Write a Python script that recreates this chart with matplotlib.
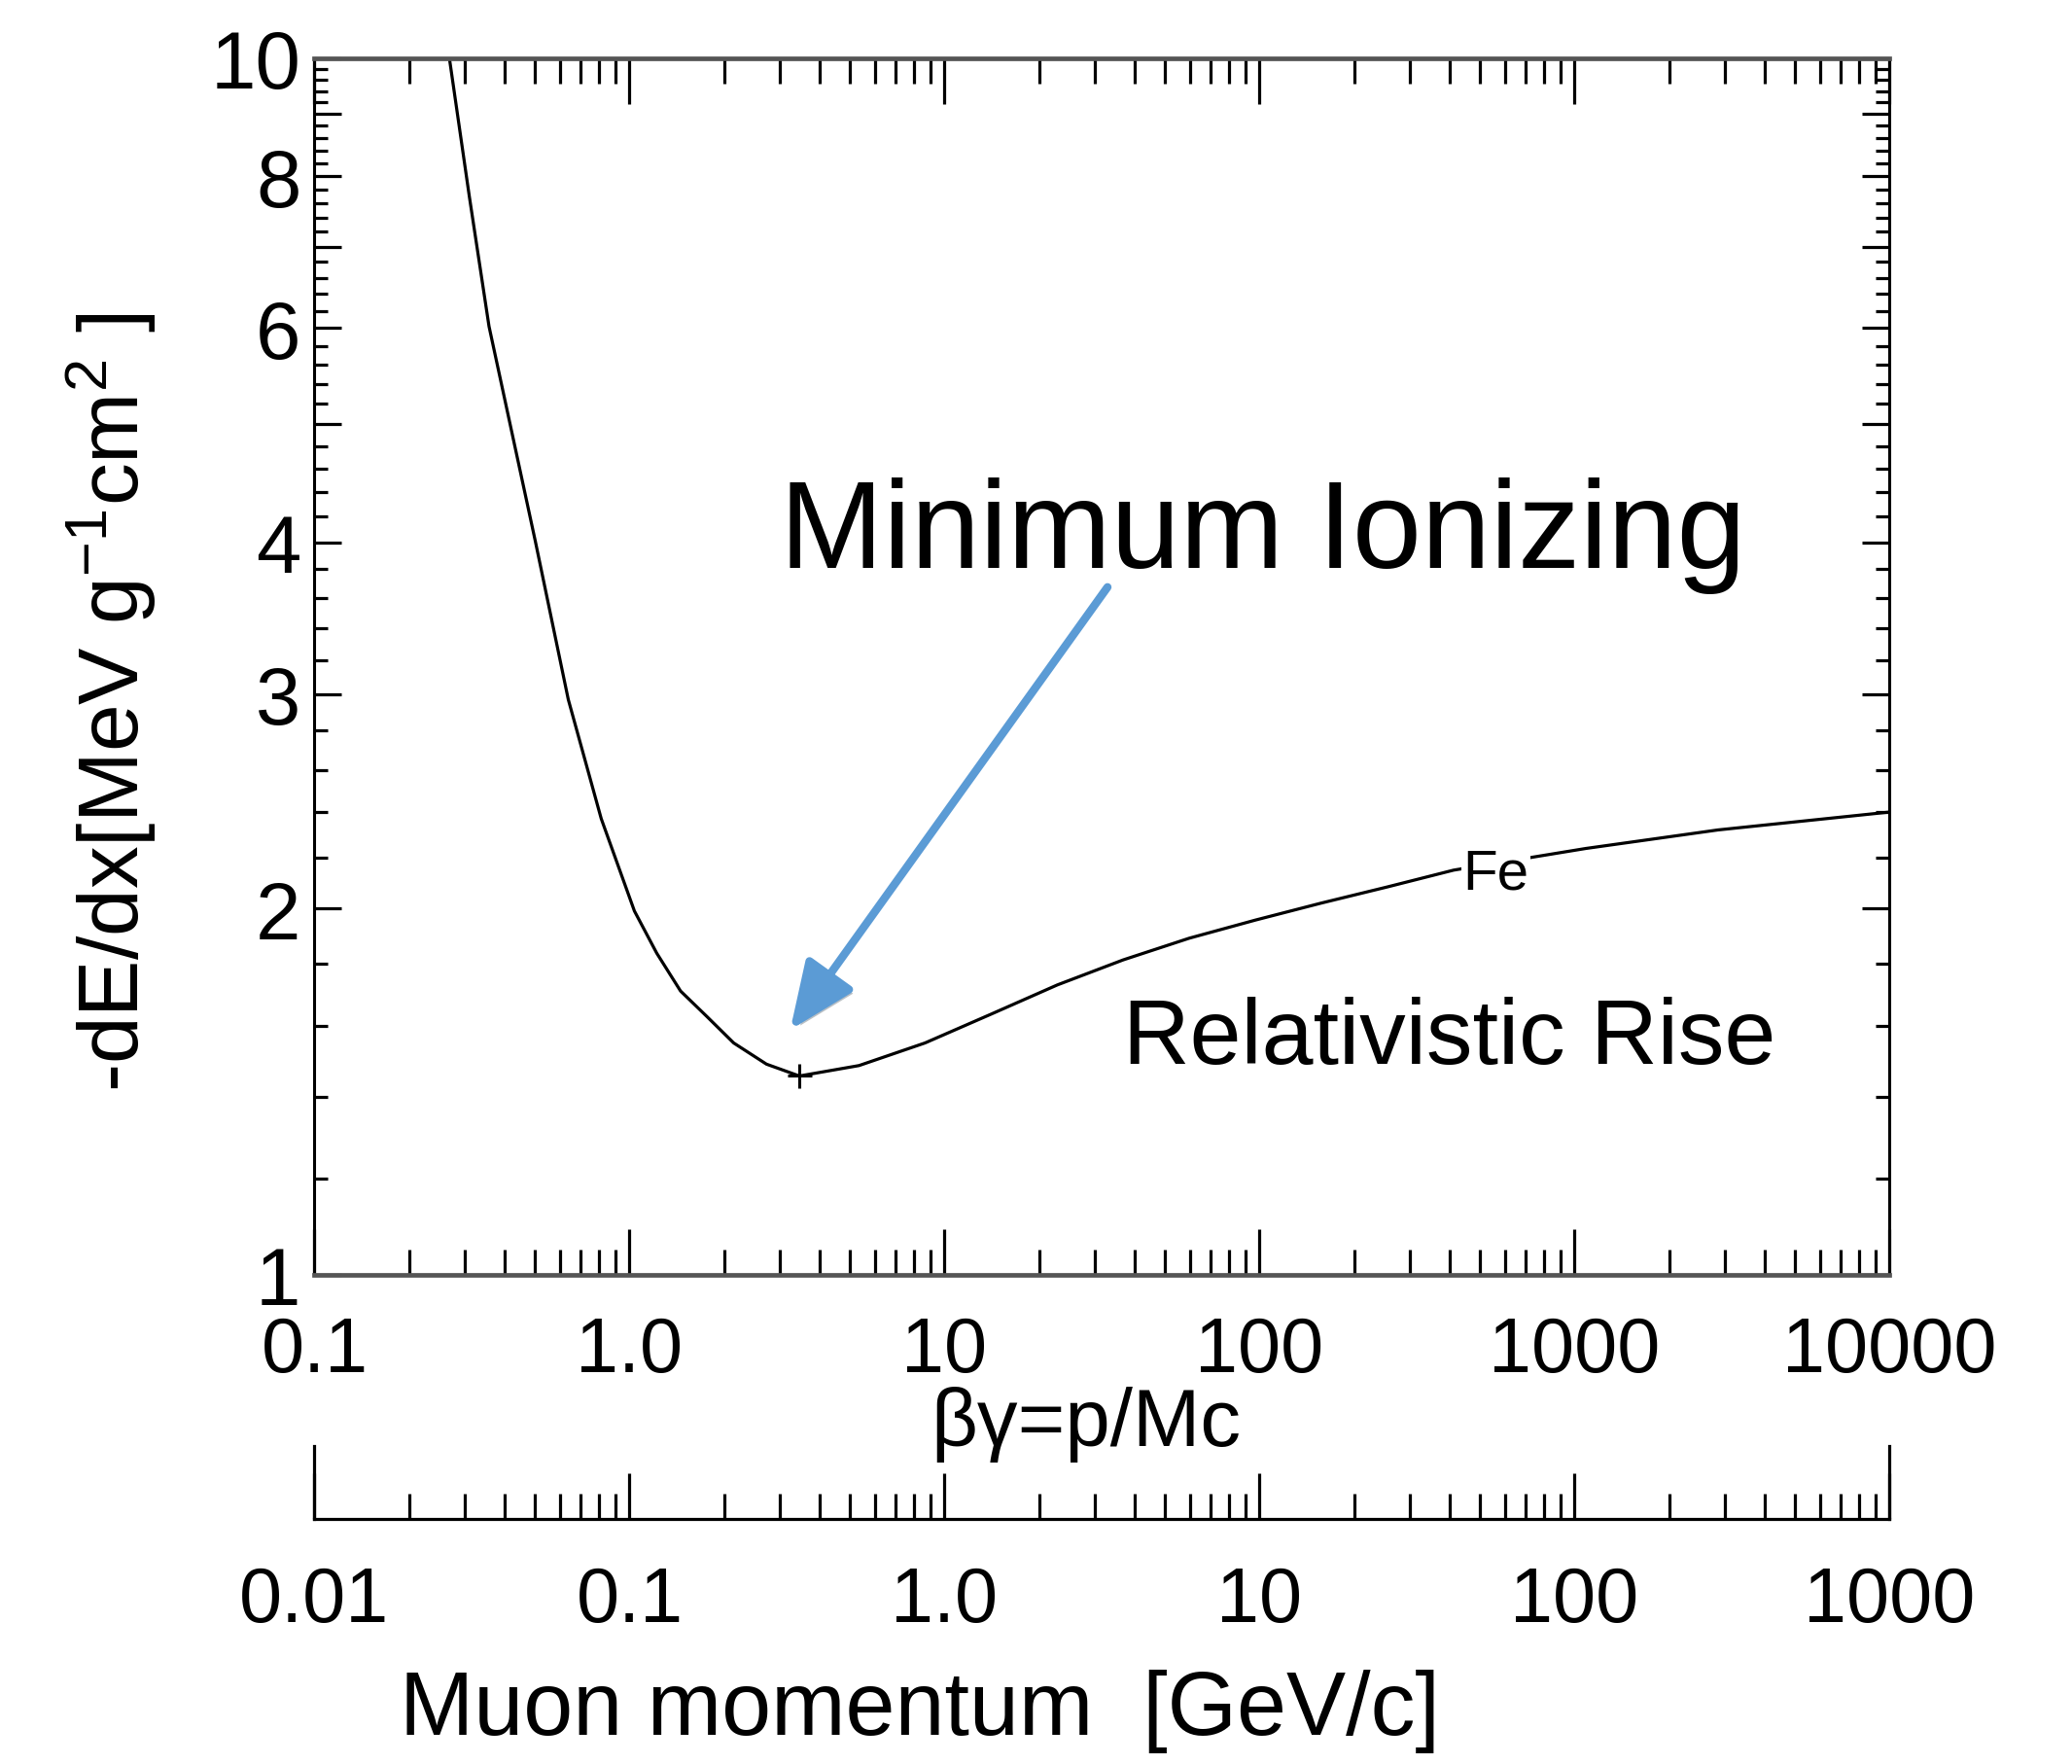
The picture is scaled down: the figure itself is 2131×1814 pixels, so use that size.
""" energy loss of muons in iron: Bethe curve with minimum ionizing point """
import matplotlib.pyplot as plt
import matplotlib.ticker as mticker
import matplotlib.patheffects as pe

plt.rcParams['font.family'] = ['Liberation Sans', 'DejaVu Sans']
plt.rcParams['mathtext.fontset'] = 'custom'
plt.rcParams['mathtext.rm'] = 'Liberation Sans'
plt.rcParams['mathtext.it'] = 'Liberation Sans:italic'

# Fe curve
beta_gamma = [0.268, 0.310, 0.358, 0.502, 0.639, 0.813, 1.036, 1.220, 1.452, 1.762,
              2.14, 2.72, 3.46, 5.35, 8.67, 14.06, 22.8, 36.9, 59.8, 97.0, 157, 255,
              413, 1085, 2850, 10000]
dedx = [10.0, 7.70, 6.02, 4.01, 2.97, 2.37, 1.99, 1.837, 1.71, 1.629,
        1.55, 1.489, 1.456, 1.485, 1.55, 1.637, 1.73, 1.814, 1.89, 1.956, 2.02, 2.083,
        2.15, 2.24, 2.32, 2.40]

# minimum ionizing point
min_bg = [3.46]
min_dedx = [1.456]

# axis ticks
bg_ticks = [0.1, 1, 10, 100, 1000, 10000]
bg_labels = ["0.1", "1.0", "10", "100", "1000", "10000"]
p_ticks = [0.01, 0.1, 1, 10, 100, 1000]
p_labels = ["0.01", "0.1", "1.0", "10", "100", "1000"]
y_ticks = [1, 2, 3, 4, 5, 6, 7, 8, 9, 10]
y_labels = ["1", "2", "3", "4", "", "6", "", "8", "", "10"]
y_minor = [v / 10 for v in range(12, 100, 2) if v % 10]

fig = plt.figure(figsize=(21.31, 18.15), dpi=100, facecolor="w")
ax = fig.add_axes([0.1518, 0.2774, 0.7602, 0.689])

ax.plot(beta_gamma, dedx, color="k", lw=2.3, zorder=2)
ax.plot(min_bg, min_dedx, marker="+", color="k", ms=18, mew=2.2, ls="none", zorder=2)

ax.set_xscale("log")
ax.set_yscale("log")
ax.set_xlim(0.1, 10000)
ax.set_ylim(1, 10)
ax.set_xticks(bg_ticks, bg_labels)
ax.xaxis.set_minor_locator(mticker.LogLocator(base=10, subs=range(2, 10)))
ax.xaxis.set_minor_formatter(mticker.NullFormatter())
ax.set_yticks(y_ticks, y_labels)
ax.yaxis.set_minor_locator(mticker.FixedLocator(y_minor))
ax.yaxis.set_minor_formatter(mticker.NullFormatter())

ax.tick_params(which="both", direction="in", top=True, right=True, width=2.3)
ax.tick_params(axis="x", which="major", length=34, labelsize=57, pad=30)
ax.tick_params(axis="x", which="minor", length=19)
ax.tick_params(axis="y", which="major", length=20, labelsize=60, pad=10)
ax.tick_params(axis="y", which="minor", length=10)
for side in ["top", "bottom"]:
    ax.spines[side].set_linewidth(3.4)
    ax.spines[side].set_color("#555555")
for side in ["left", "right"]:
    ax.spines[side].set_linewidth(2.2)

ax.set_xlabel("βγ=p/Mc", fontsize=60, va="center")
ax.xaxis.set_label_coords(0.4898, -0.1228)
ax.set_ylabel(r"-dE/dx[MeV g$^{-1}$cm$^{2}$ ]", fontsize=63, va="center")
ax.yaxis.set_label_coords(-0.1287, 0.471)

# annotations
ax.text(2.996, 3.815, "Minimum Ionizing", fontsize=92, ha="left", va="baseline")
ax.text(36.9, 1.492, "Relativistic Rise", fontsize=68.5, ha="left", va="baseline")
ax.text(562, 2.135, "Fe", fontsize=42, ha="center", va="center", zorder=3,
        bbox=dict(facecolor="w", edgecolor="none", pad=1))
ax.annotate("", xy=(3.236, 1.589), xytext=(32.9, 3.674),
            arrowprops=dict(arrowstyle="-|>,head_length=2.1,head_width=0.9",
                            color="#5b9bd5", lw=6, mutation_scale=20,
                            shrinkA=0, shrinkB=0,
                            path_effects=[pe.SimplePatchShadow(offset=(3, -3), alpha=0.3),
                                          pe.Normal()]))

# second scale: muon momentum
ax2 = fig.add_axes([0.1518, 0.1388, 0.7602, 0.0413])
ax2.patch.set_alpha(0)
ax2.set_xscale("log")
ax2.set_xlim(0.01, 1000)
ax2.set_xticks(p_ticks, p_labels)
ax2.xaxis.set_minor_locator(mticker.LogLocator(base=10, subs=range(2, 10)))
ax2.xaxis.set_minor_formatter(mticker.NullFormatter())
ax2.set_yticks([])
ax2.spines["top"].set_visible(False)
for side in ["left", "right", "bottom"]:
    ax2.spines[side].set_linewidth(2.3)
ax2.tick_params(which="both", direction="in", width=2.3)
ax2.tick_params(which="major", length=34, labelsize=57, pad=34)
ax2.tick_params(which="minor", length=19)
ax2.set_xlabel("Muon momentum  [GeV/c]", fontsize=66, va="center")
ax2.xaxis.set_label_coords(0.3843, -2.627)

plt.savefig("out.png", dpi=100)
